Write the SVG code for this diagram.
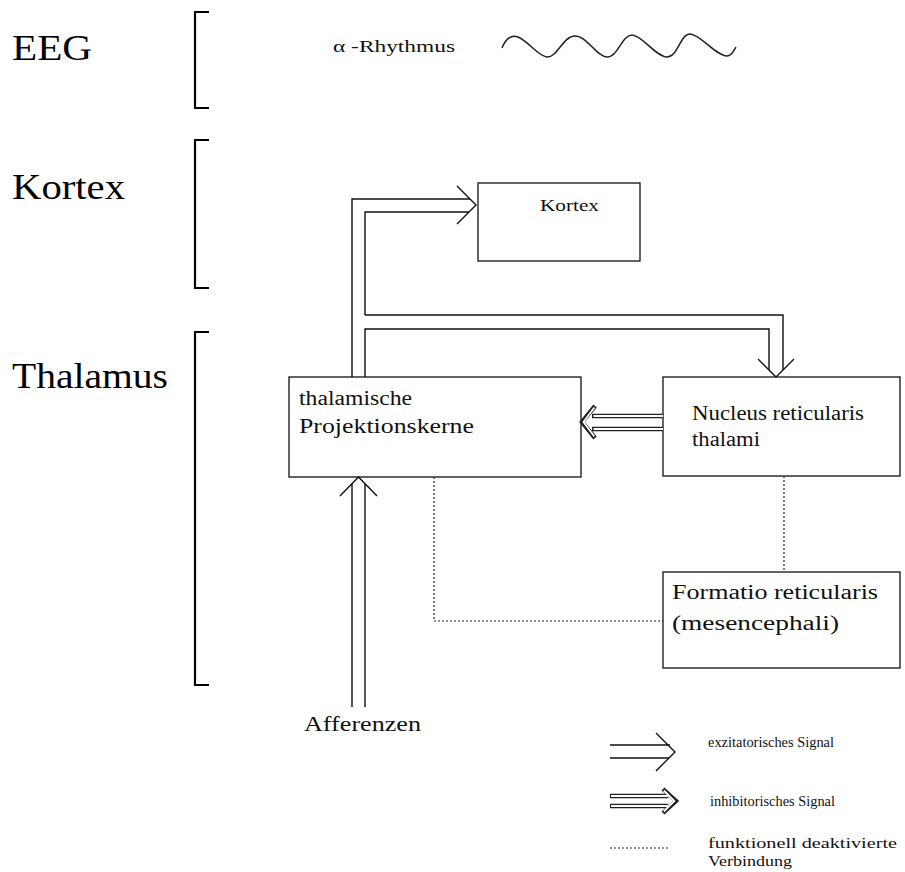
<svg xmlns="http://www.w3.org/2000/svg" width="905" height="872" viewBox="0 0 905 872">
  <style>
    .bg { fill: #ffffff; }
    .big { font-family: "Liberation Serif", "Times New Roman", serif; font-size: 36px; fill: #000; }
    .lbl { font-family: "Liberation Serif", "Times New Roman", serif; font-size: 20px; fill: #111; }
    .sm { font-family: "Liberation Serif", "Times New Roman", serif; font-size: 16px; fill: #111; }
    .leg { font-family: "Liberation Serif", "Times New Roman", serif; font-size: 15px; fill: #111; }
    .bracket { fill: none; stroke: #000; stroke-width: 2.2; }
    .box { fill: #fff; stroke: #222; stroke-width: 1.4; }
    .exc { fill: none; stroke: #111; stroke-width: 1.4; stroke-linejoin: miter; }
    .inh-out { fill: none; stroke: #222; stroke-width: 4.4; stroke-linejoin: miter; }
    .inh-in { fill: none; stroke: #fff; stroke-width: 1.8; stroke-linejoin: miter; }
    .dot { fill: none; stroke: #222; stroke-width: 1.2; stroke-dasharray: 2 2; }
    .wave { fill: none; stroke: #222; stroke-width: 1.5; }
  </style>

  <rect class="bg" x="0" y="0" width="905" height="872"/>

  <!-- level labels with brackets -->
  <g id="level-eeg">
    <text class="big" x="12" y="60" textLength="80" lengthAdjust="spacingAndGlyphs">EEG</text>
    <path class="bracket" d="M209,12 H195 V108 H209"/>
  </g>
  <g id="level-kortex">
    <text class="big" x="12" y="199" textLength="113" lengthAdjust="spacingAndGlyphs">Kortex</text>
    <path class="bracket" d="M209,140 H195 V288 H209"/>
  </g>
  <g id="level-thalamus">
    <text class="big" x="12" y="388" textLength="156" lengthAdjust="spacingAndGlyphs">Thalamus</text>
    <path class="bracket" d="M209,332 H195 V685 H209"/>
  </g>

  <!-- alpha rhythm trace -->
  <g id="alpha-rhythm">
    <text class="sm" x="333" y="52" textLength="122" lengthAdjust="spacingAndGlyphs">α -Rhythmus</text>
    <path class="wave" d="M502,48 C506,38 512,35 518,37 C528,41 538,56 547,57 C557,58 563,36 575,36 C587,36 597,57 607,57 C618,57 622,35 632,35 C642,35 656,57 667,57 C678,57 680,34 690,34 C700,34 716,56 727,56 C732,56 734,50 736,47"/>
  </g>

  <!-- nodes -->
  <g id="node-kortex">
    <rect class="box" x="478" y="183" width="162" height="78"/>
    <text class="sm" x="540" y="211" textLength="59" lengthAdjust="spacingAndGlyphs">Kortex</text>
  </g>
  <g id="node-projektionskerne">
    <rect class="box" x="289" y="377" width="292" height="100"/>
    <text class="lbl" x="299" y="405" textLength="113" lengthAdjust="spacingAndGlyphs">thalamische</text>
    <text class="lbl" x="299" y="433" textLength="175" lengthAdjust="spacingAndGlyphs">Projektionskerne</text>
  </g>
  <g id="node-nucleus-reticularis">
    <rect class="box" x="663" y="377" width="237" height="99"/>
    <text class="lbl" x="692" y="420" textLength="172" lengthAdjust="spacingAndGlyphs">Nucleus reticularis</text>
    <text class="lbl" x="692" y="446" textLength="68" lengthAdjust="spacingAndGlyphs">thalami</text>
  </g>
  <g id="node-formatio-reticularis">
    <rect class="box" x="663" y="572" width="237" height="96"/>
    <text class="lbl" x="672" y="599" textLength="206" lengthAdjust="spacingAndGlyphs">Formatio reticularis</text>
    <text class="lbl" x="672" y="630" textLength="167" lengthAdjust="spacingAndGlyphs">(mesencephali)</text>
  </g>
  <g id="node-afferenzen">
    <text class="lbl" x="304" y="731" textLength="117" lengthAdjust="spacingAndGlyphs">Afferenzen</text>
  </g>

  <!-- connectors -->
  <g id="connectors">
    <!-- projection nuclei to cortex (excitatory) -->
    <path class="exc" d="M352,377 V199 H470"/>
    <path class="exc" d="M365,315 V212 H469"/>
    <path class="exc" d="M457,186 L476,205 L457,224"/>
    <!-- branch to nucleus reticularis (excitatory) -->
    <path class="exc" d="M365,315 H783 V370"/>
    <path class="exc" d="M365,377 V329 H769 V370"/>
    <path class="exc" d="M758,359 L776,377 L794,359"/>
    <!-- afferents into projection nuclei (excitatory) -->
    <path class="exc" d="M352,707 V484"/>
    <path class="exc" d="M365,707 V484"/>
    <path class="exc" d="M340,496 L358.5,477 L377,496"/>
    <!-- nucleus reticularis to projection nuclei (inhibitory) -->
    <g id="inhibition">
      <path class="inh-out" d="M592,416 H663 M592,429 H663 M595,406 L582,422 L595,438"/>
      <path class="inh-in" d="M593.5,416 H663 M593.5,429 H663 M594.3,407.5 L583.5,422 L594.3,436.5"/>
    </g>
    <!-- functionally deactivated links -->
    <path class="dot" d="M434,477 V621 H663"/>
    <path class="dot" d="M784,476 V572"/>
  </g>

  <!-- legend -->
  <g id="legend">
    <path class="exc" d="M610,745 H670 M610,758 H669"/>
    <path class="exc" d="M656,733 L675,752 L656,771"/>
    <text class="leg" x="708" y="747" textLength="126" lengthAdjust="spacingAndGlyphs">exzitatorisches  Signal</text>

    <path class="inh-out" d="M610,796 H668 M610,806 H668 M663,789 L676,801 L663,813"/>
    <path class="inh-in" d="M611,796 H668 M611,806 H668 M663.8,790.5 L674.3,801 L663.8,811.5"/>
    <text class="leg" x="710" y="806" textLength="125" lengthAdjust="spacingAndGlyphs">inhibitorisches Signal</text>

    <path class="dot" d="M610,848 H668"/>
    <text class="leg" x="708" y="848" textLength="189" lengthAdjust="spacingAndGlyphs">funktionell deaktivierte</text>
    <text class="leg" x="708" y="866" textLength="84" lengthAdjust="spacingAndGlyphs">Verbindung</text>
  </g>
</svg>
